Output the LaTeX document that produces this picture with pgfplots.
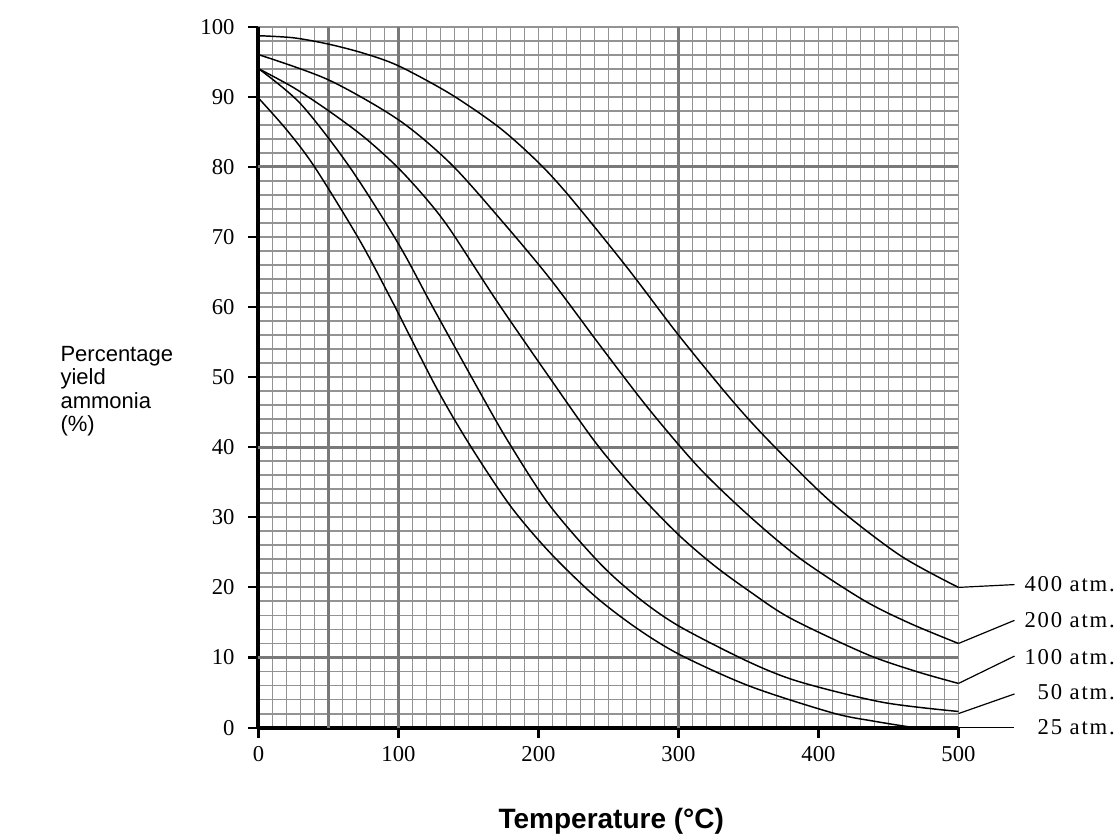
\documentclass[border=0pt]{standalone}
\usepackage{fontspec}
\setmainfont{Liberation Serif}
\newfontfamily\arial{Liberation Sans}
\newfontfamily\atmfont[LetterSpace=8]{Liberation Serif}
\usepackage{pgfplots}
\pgfplotsset{compat=1.18}

\begin{document}
\begin{tikzpicture}
% page = 1117 x 834 px, 1 px = 0.75pt, axis box at (0,0)
\path[use as bounding box] (-193.875pt,-79.8pt) rectangle (643.875pt,545.7pt);
\begin{axis}[
    at={(0,0)}, anchor=south west,
    scale only axis,
    width=525pt, height=525.75pt,
    xmin=0, xmax=500, ymin=0, ymax=100,
    axis x line=bottom, axis y line=left,
    axis line style={-, line width=3pt, black},
    xtick={0,100,...,500}, ytick={0,10,...,100},
    minor x tick num=9, minor y tick num=4,
    tick align=outside,
    major tick length=7.5pt, minor tick length=0pt,
    major tick style={line width=1.6pt, black},
    grid=both,
    minor grid style={color=gray!85, line width=1.4pt},
    major grid style={color=gray!85, line width=1.4pt},
    extra x ticks={50,100,300}, extra y ticks={10,40,80},
    extra x tick labels={}, extra y tick labels={},
    extra tick style={major tick length=0pt, grid=major,
        major grid style={color=gray!95!black, line width=2.3pt}},
    ticklabel style={font=\fontsize{17}{17}\selectfont},
    yticklabel style={xshift=-7pt},
    xticklabel style={yshift=-3pt},
    /pgf/number format/assume math mode=true,
    clip=false,
]

% 400 atm
\addplot[smooth, line width=1.1pt] coordinates {
    (0,98.7) (25,98.4) (50,97.5) (75,96.2) (100,94.4) (137,90.4) (172,85.6)
    (200,80.6) (222,75.8) (263,65.7) (300,56.0) (339,46.5) (367,40.4)
    (410,32.0) (458,24.6) (500,20.0)
};
% 200 atm
\addplot[smooth, line width=1.1pt] coordinates {
    (0,96.0) (50,92.4) (100,86.7) (137,80.5) (172,72.7) (208,64.1) (244,54.5)
    (279,45.4) (315,37.0) (351,30.1) (387,24.1) (432,18.2)
    (465,14.9) (500,12.0)
};
% 100 atm
\addplot[smooth, line width=1.1pt] coordinates {
    (0,94.0) (25,91.3) (50,88.0) (75,84.3) (99,80.0) (120,75.4) (137,71.0)
    (170,60.9) (208,49.9) (241,40.6) (270,33.7) (299,27.7) (325,23.2)
    (351,19.4) (380,15.6) (434,10.5) (470,8.0) (500,6.3)
};
% 50 atm
\addplot[smooth, line width=1.1pt] coordinates {
    (0,94.0) (30,89.0) (65,80.0) (100,69.0) (125,59.8) (158,47.9) (179,40.6)
    (208,31.7) (244,23.4) (272,18.4) (301,14.4) (351,9.3)
    (387,6.5) (446,3.6) (500,2.3)
};
% 25 atm
\addplot[smooth, line width=1.1pt] coordinates {
    (0,89.8) (20,85.3) (40,80.0) (72,69.6) (95,61.0) (127,48.5) (151,40.3)
    (180,31.6) (208,25.0) (240,18.8) (270,14.2) (301,10.4) (351,5.9)
    (410,2.1) (440,0.9) (468,0.0)
};

% leader lines and curve labels
\draw[line width=0.9pt] (axis cs:500,20.0) -- (axis cs:540,20.4);
\draw[line width=0.9pt] (axis cs:500,12.0) -- (axis cs:540,15.3);
\draw[line width=0.9pt] (axis cs:500,6.3) -- (axis cs:540,10.2);
\draw[line width=0.9pt] (axis cs:500,2.0) -- (axis cs:540,4.8);
\draw[line width=0.9pt] (axis cs:500,0.0) -- (axis cs:540,0.0);
\node[anchor=east, font=\atmfont\fontsize{17}{17}\selectfont] at (axis cs:615,20.5) {400 atm.};
\node[anchor=east, font=\atmfont\fontsize{17}{17}\selectfont] at (axis cs:615,15.3) {200 atm.};
\node[anchor=east, font=\atmfont\fontsize{17}{17}\selectfont] at (axis cs:615,10.1) {100 atm.};
\node[anchor=east, font=\atmfont\fontsize{17}{17}\selectfont] at (axis cs:615,5.1) {50 atm.};
\node[anchor=east, font=\atmfont\fontsize{17}{17}\selectfont] at (axis cs:615,0.1) {25 atm.};

% axis titles
\node[anchor=west, align=left, xshift=-152pt,
      font=\arial\fontsize{16.5}{17.6}\selectfont] at (axis cs:0,48) {Percentage\\yield\\ammonia\\(\%)};
\node[anchor=base, yshift=-76pt,
      font=\arial\bfseries\fontsize{21}{21}\selectfont] at (axis cs:252,0) {Temperature (°C)};
\end{axis}
\end{tikzpicture}
\end{document}
